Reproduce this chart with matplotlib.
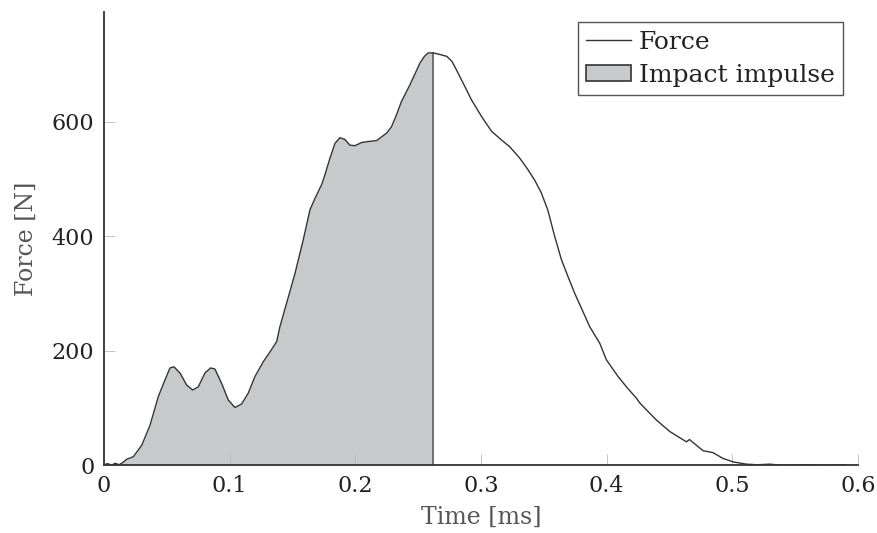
import matplotlib.pyplot as plt
from matplotlib.lines import Line2D
from matplotlib.patches import Patch
import numpy as np

# Force curve (time in ms, force in N)
time_ms = [0.0, 0.003, 0.006, 0.0088, 0.012, 0.015, 0.018, 0.0233, 0.030, 0.0366,
           0.0432, 0.0485, 0.0525, 0.0557, 0.0605, 0.0658, 0.0706, 0.075, 0.0803,
           0.0848, 0.0883, 0.0936, 0.0989, 0.1042, 0.1095, 0.1148, 0.1201, 0.1268,
           0.1321, 0.1374, 0.14, 0.1453, 0.152, 0.1586, 0.1639, 0.1679, 0.1732,
           0.1758, 0.1798, 0.1838, 0.1877, 0.1917, 0.1957, 0.1997, 0.205, 0.209,
           0.217, 0.2249, 0.2288, 0.2328, 0.2367, 0.2434, 0.2514, 0.255, 0.258,
           0.262, 0.266, 0.2729, 0.277, 0.2806, 0.2859, 0.2925, 0.3005, 0.3085,
           0.3164, 0.323, 0.331, 0.3375, 0.3430, 0.348, 0.3532, 0.3588, 0.3641,
           0.3694, 0.3747, 0.3813, 0.3866, 0.3946, 0.3999, 0.4092, 0.4158, 0.4238,
           0.4268, 0.4397, 0.4503, 0.4636, 0.466, 0.469, 0.4768, 0.4848, 0.4927,
           0.5007, 0.5113, 0.52, 0.53, 0.54, 0.56, 0.575, 0.59]
force_n = [1, 3, 0, 3.5, 1, 5, 10.5, 15, 35, 70,
           120, 149, 170, 172, 161, 140, 131.5, 137, 161,
           170, 168, 143, 114, 101, 107, 126, 155, 181,
           198, 216, 242, 283, 335, 394, 446, 466, 490,
           507, 536, 562, 572, 569, 559, 558, 563.5, 565,
           567, 580, 591, 612, 635, 664, 702, 714, 720,
           720, 718, 714, 705, 690, 667, 638, 609, 583,
           568, 556, 536, 516, 497, 476, 446, 399, 359,
           329, 300, 268, 242, 213, 184, 155, 137, 117,
           108, 79, 59, 41, 45, 39.5, 25.5, 22, 12,
           6, 2, 1, 2, 0, 1, 0, 1]

impulse_end = 0.262

t = np.array(time_ms)
f = np.array(force_n)

plt.rcParams['font.family'] = ['DejaVu Serif']

fig = plt.figure(figsize=(8.78, 5.33), dpi=100)
ax = fig.add_axes([0.1185, 0.127, 0.8585, 0.85])

line_col = '#333333'
fill_col = '#c8c9cb'

mask = t <= impulse_end
ax.fill_between(t[mask], 0, f[mask], color=fill_col, linewidth=0)
peak = np.interp(impulse_end, t, f)
ax.plot([impulse_end, impulse_end], [0, peak], color='#555555', linewidth=1.1)
ax.plot(t, f, color=line_col, linewidth=1.0)

ax.set_xlim(0, 0.6)
ax.set_ylim(0, 791)
ax.set_xticks([0, 0.1, 0.2, 0.3, 0.4, 0.5, 0.6])
ax.set_xticklabels(['0', '0.1', '0.2', '0.3', '0.4', '0.5', '0.6'])
ax.set_yticks([0, 200, 400, 600])

for s in ['top', 'right']:
    ax.spines[s].set_visible(False)
for s in ['left', 'bottom']:
    ax.spines[s].set_color(line_col)
    ax.spines[s].set_linewidth(1.3)

ax.tick_params(direction='in', length=8, width=0.6, color='#bbbbbb',
               labelsize=16, labelcolor='#222222', pad=7)

ax.set_xlabel('Time [ms]', fontsize=17, color='#555555', labelpad=6)
ax.set_ylabel('Force [N]', fontsize=17, color='#555555', labelpad=10)

handles = [Line2D([], [], color=line_col, linewidth=1.0),
           Patch(facecolor=fill_col, edgecolor=line_col, linewidth=1.2)]
leg = ax.legend(handles, ['Force', 'Impact impulse'], loc='upper right',
                bbox_to_anchor=(0.981, 0.979), borderaxespad=0, fontsize=18,
                fancybox=False, framealpha=1, edgecolor='#555555',
                handlelength=1.8, handleheight=0.6, handletextpad=0.3,
                borderpad=0.35, labelspacing=0.4)
leg.get_frame().set_linewidth(1.0)
for txt in leg.get_texts():
    txt.set_color('#222222')

fig.savefig('out.png', dpi=100)
